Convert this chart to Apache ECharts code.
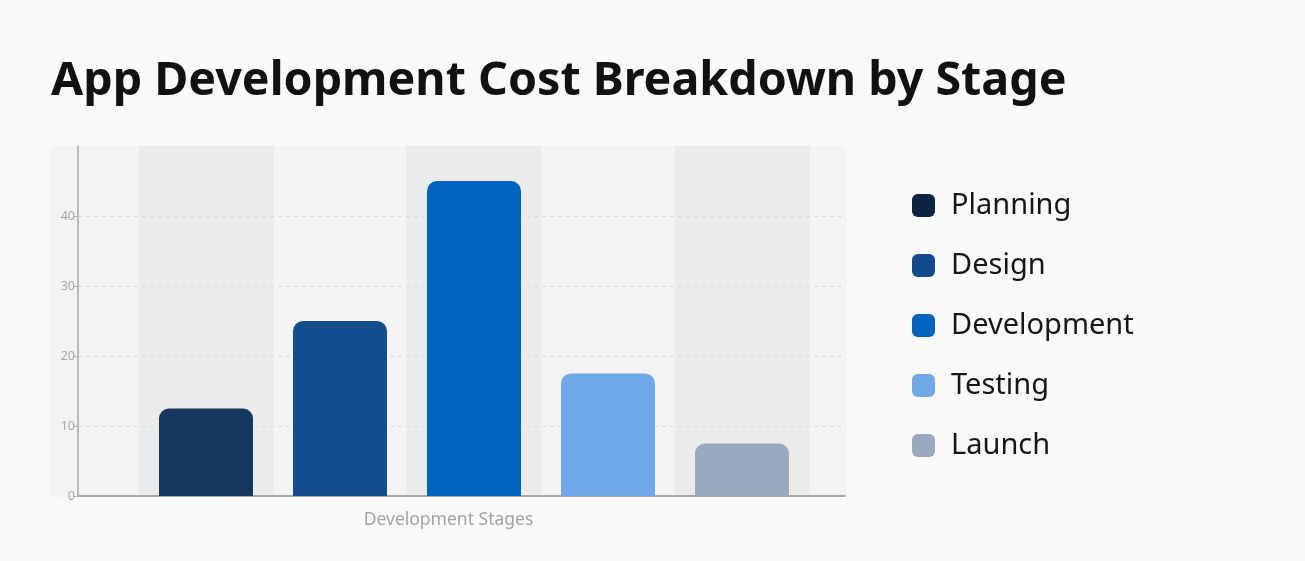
<!DOCTYPE html>
<html>
<head>
<meta charset="utf-8">
<script src="https://cdn.jsdelivr.net/npm/echarts@6/dist/echarts.min.js"></script>
<style>
html,body{margin:0;padding:0;background:#f9f9fa;}
#chart{width:1305px;height:561px;}
</style>
</head>
<body>
<div id="chart"></div>
<script>
const titleText = 'App Development Cost Breakdown by Stage';
const axisName = 'Development Stages';
const categories = ['Planning', 'Design', 'Development', 'Testing', 'Launch'];
const costs = [12.5, 25, 45, 17.5, 7.5];
const barColors = ['#14365f', '#134d90', '#0062c1', '#6fa8e6', '#98a9c0'];
const legendColors = ['#0c2441', '#134a8e', '#0062c1', '#6fa8e6', '#98a9c0'];
const yTicks = [0, 10, 20, 30, 40, 50];

const FONT = '"Noto Sans", sans-serif';
const chart = echarts.init(document.getElementById('chart'));

const series = categories.map((name, i) => ({
  name: name,
  type: 'bar',
  xAxisIndex: 1,
  yAxisIndex: 1,
  stack: 'cost',
  barWidth: 94,
  itemStyle: { color: barColors[i], borderRadius: [10, 10, 0, 0] },
  data: costs.map((v, j) => (j === i ? v : '-'))
}));

chart.setOption({
  backgroundColor: '#f9f9fa',
  animation: false,
  title: {
    text: titleText,
    left: 46,
    top: 53,
    textStyle: { fontFamily: FONT, fontWeight: 'bold', fontSize: 46.6, color: '#111111' }
  },
  graphic: [{
    type: 'rect',
    z: -100,
    shape: { x: 50, y: 146, width: 797, height: 351, r: 6 },
    style: { fill: '#f3f3f3' }
  }],
  legend: {
    orient: 'vertical',
    left: 907,
    top: 186,
    itemWidth: 23,
    itemHeight: 23,
    itemGap: 31,
    icon: 'roundRect',
    textStyle: { fontFamily: FONT, fontSize: 29, color: '#161616', padding: [0, 0, 0, 11] },
    data: categories.map((n, i) => ({ name: n, itemStyle: { color: legendColors[i] } }))
  },
  grid: [
    { left: 78, right: 460, top: 146, bottom: 65 },
    { left: 139, right: 496, top: 146, bottom: 65 }
  ],
  xAxis: [{
    type: 'value',
    gridIndex: 0,
    min: 0, max: 1,
    name: axisName,
    nameLocation: 'middle',
    nameGap: 15,
    nameTextStyle: { fontFamily: FONT, fontSize: 17.5, color: '#a3a3a3', padding: [0, 26, 0, 0] },
    axisLine: { show: true, lineStyle: { color: '#a8a8a8', width: 2 } },
    axisTick: { show: false },
    axisLabel: { show: false },
    splitLine: { show: false }
  }, {
    type: 'category',
    gridIndex: 1,
    data: categories,
    axisLine: { show: false },
    axisTick: { show: false },
    axisLabel: { show: false },
    splitArea: { show: true, areaStyle: { color: ['#ebebeb', 'rgba(0,0,0,0)'] } }
  }],
  yAxis: [{
    type: 'value',
    gridIndex: 0,
    z: 1,
    min: yTicks[0],
    max: yTicks[yTicks.length - 1],
    interval: 10,
    axisLine: { show: true, lineStyle: { color: '#a8a8a8', width: 1.5 } },
    axisTick: { show: true, length: 5, lineStyle: { color: '#b0b0b0' } },
    axisLabel: { showMaxLabel: false, fontFamily: FONT, fontSize: 12.5, color: '#a6a6a6', margin: 3 },
    splitLine: { show: true, showMaxLine: false, showMinLine: false, lineStyle: { color: '#dddddd', type: [4, 4], width: 1 } }
  }, {
    type: 'value',
    gridIndex: 1,
    min: yTicks[0],
    max: yTicks[yTicks.length - 1],
    show: false,
    splitLine: { show: false }
  }],
  series: series
});
</script>
</body>
</html>
